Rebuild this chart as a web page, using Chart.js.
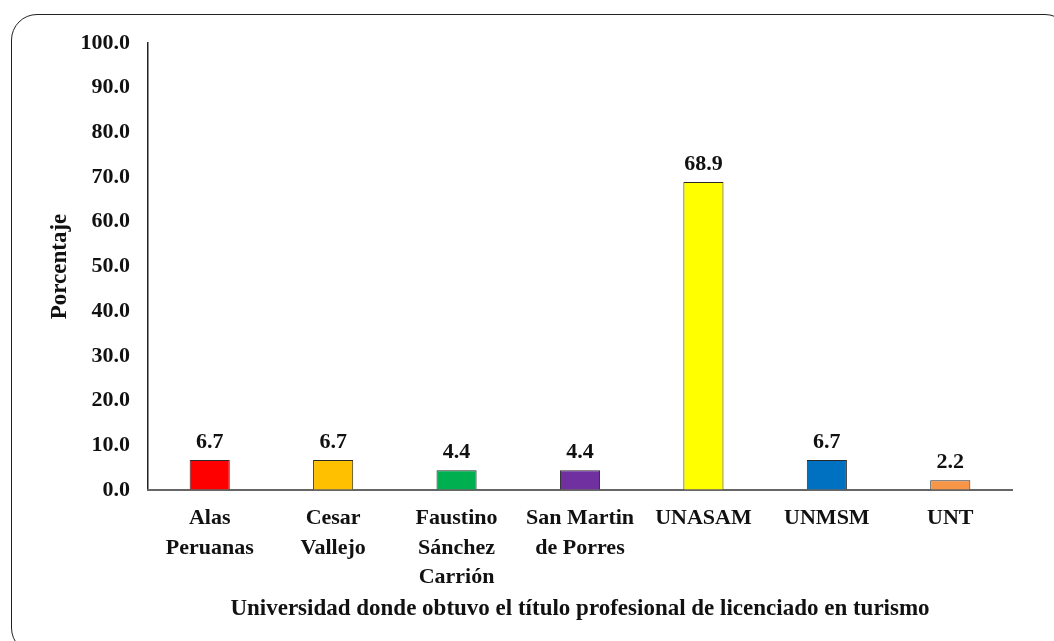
<!DOCTYPE html>
<html>
<head>
<meta charset="utf-8">
<script src="https://cdn.jsdelivr.net/npm/chart.js@4/dist/chart.umd.min.js"></script>
<style>
  html, body { margin: 0; padding: 0; background: #ffffff; overflow: hidden; }
  #frame { position: absolute; left: 11px; top: 14px; width: 1060px; height: 640px;
           border: 1.5px solid #222; border-radius: 26px; box-sizing: border-box; }
  #wrap { position: absolute; left: 0; top: 0; width: 1054px; height: 641px; }
</style>
</head>
<body>
<div id="frame"></div>
<div id="wrap"><canvas id="c" width="1054" height="641"></canvas></div>
<script>
const categories = [["Alas", "Peruanas"], ["Cesar", "Vallejo"], ["Faustino", "Sánchez", "Carrión"], ["San Martin", "de Porres"], "UNASAM", "UNMSM", "UNT"];
const values = [6.7, 6.7, 4.4, 4.4, 68.9, 6.7, 2.2];
const barColors = ["#FF0000", "#FFC000", "#00B050", "#7030A0", "#FFFF00", "#0070C0", "#F79646"];
const yTitle = "Porcentaje";
const xTitle = "Universidad donde obtuvo el título profesional de licenciado en turismo";

const FONT = "'Liberation Serif', 'Times New Roman', serif";
const TXT = "#111";

const valueLabels = {
  id: 'valueLabels',
  afterDatasetsDraw(chart) {
    const ctx = chart.ctx;
    const meta = chart.getDatasetMeta(0);
    ctx.save();
    ctx.font = "bold 22px " + FONT;
    ctx.fillStyle = TXT;
    ctx.textAlign = 'center';
    ctx.textBaseline = 'alphabetic';
    meta.data.forEach((bar, i) => {
      ctx.fillText(values[i].toFixed(1), bar.x, bar.y - 12);
    });
    ctx.restore();
  }
};

new Chart(document.getElementById('c'), {
  type: 'bar',
  data: {
    labels: categories,
    datasets: [{
      data: values,
      backgroundColor: barColors,
      borderColor: "#2a2a2a",
      borderWidth: 1,
      barPercentage: 1,
      categoryPercentage: 0.325
    }]
  },
  options: {
    responsive: false,
    animation: false,
    layout: { padding: { left: 42, top: 43, right: 42, bottom: 14 } },
    plugins: { legend: { display: false }, tooltip: { enabled: false } },
    scales: {
      y: {
        min: 0, max: 100,
        ticks: {
          stepSize: 10,
          padding: 18,
          color: TXT,
          font: { family: FONT, size: 22, weight: 'bold' },
          callback: v => Number(v).toFixed(1)
        },
        grid: { display: true, drawOnChartArea: false, drawTicks: false },
        border: { display: true, color: "#222", width: 1.5 },
        title: { display: true, text: yTitle, color: TXT, padding: 4,
                 font: { family: FONT, size: 23, weight: 'bold' } },
        afterFit: s => { s.width = 148 - 42; }
      },
      x: {
        ticks: {
          autoSkip: false, maxRotation: 0, minRotation: 0,
          padding: 13,
          color: TXT,
          font: { family: FONT, size: 22, weight: 'bold', lineHeight: 1.36 }
        },
        grid: { display: true, drawOnChartArea: false, drawTicks: false },
        border: { display: true, color: "#666", width: 2 },
        title: { display: true, text: xTitle, color: TXT, padding: 4,
                 font: { family: FONT, size: 23, weight: 'bold' } },
        afterFit: s => { s.height = 641 - 14 - 490; }
      }
    }
  },
  plugins: [valueLabels]
});
</script>
</body>
</html>
